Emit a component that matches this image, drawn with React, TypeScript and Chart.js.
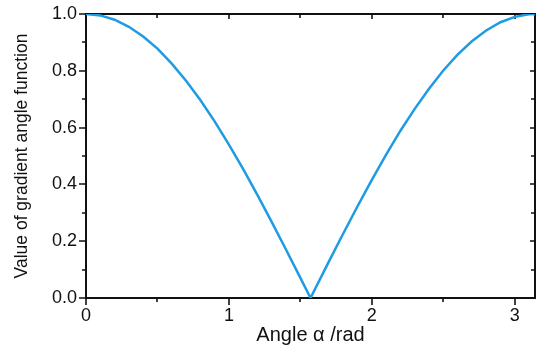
import React, { useEffect, useRef } from "react";
import { Chart, registerables } from "chart.js";

Chart.register(...registerables);

const angles = [
  0, 0.1, 0.2, 0.3, 0.4, 0.5, 0.6, 0.7, 0.8, 0.9, 1.0, 1.1, 1.2, 1.3, 1.4, 1.5, 1.571,
  1.6, 1.7, 1.8, 1.9, 2.0, 2.1, 2.2, 2.3, 2.4, 2.5, 2.6, 2.7, 2.8, 2.9, 3.0, 3.1, 3.1416,
];
const values = [
  1.0, 0.995, 0.98, 0.955, 0.921, 0.878, 0.825, 0.765, 0.697, 0.622, 0.54, 0.454, 0.362,
  0.267, 0.17, 0.071, 0.0, 0.029, 0.129, 0.227, 0.323, 0.416, 0.505, 0.589, 0.666, 0.737,
  0.801, 0.857, 0.904, 0.942, 0.971, 0.99, 0.999, 1.0,
];
const xMajorTicks = [0, 1, 2, 3];
const xMinorTicks = [0.5, 1.5, 2.5];
const yMajorTicks = [0, 0.2, 0.4, 0.6, 0.8, 1.0];
const yMinorTicks = [0.1, 0.3, 0.5, 0.7, 0.9];
const xTitle = "Angle α /rad";
const yTitle = "Value of gradient angle function";

const framePlugin = {
  id: "frame",
  beforeDatasetsDraw(chart: any) {
    const { ctx, chartArea, scales } = chart;
    const { left, right, top, bottom } = chartArea;
    const x = scales.x;
    const y = scales.y;
    ctx.save();
    ctx.strokeStyle = "#111";
    ctx.lineWidth = 2;
    ctx.strokeRect(left, top, right - left, bottom - top);
    ctx.lineWidth = 1.6;
    const major = 7;
    const minor = 4;
    const mirror = 5;
    const mirrorMinor = 4;
    ctx.beginPath();
    xMajorTicks.forEach((v) => {
      const px = Math.round(x.getPixelForValue(v));
      ctx.moveTo(px, bottom);
      ctx.lineTo(px, bottom + major);
      ctx.moveTo(px, top);
      ctx.lineTo(px, top + mirror);
    });
    xMinorTicks.forEach((v) => {
      const px = Math.round(x.getPixelForValue(v));
      ctx.moveTo(px, bottom);
      ctx.lineTo(px, bottom + minor);
      ctx.moveTo(px, top);
      ctx.lineTo(px, top + mirrorMinor);
    });
    yMajorTicks.forEach((v) => {
      const py = Math.round(y.getPixelForValue(v));
      ctx.moveTo(left, py);
      ctx.lineTo(left - major, py);
      ctx.moveTo(right, py);
      ctx.lineTo(right - mirror, py);
    });
    yMinorTicks.forEach((v) => {
      const py = Math.round(y.getPixelForValue(v));
      ctx.moveTo(left, py);
      ctx.lineTo(left - minor, py);
      ctx.moveTo(right, py);
      ctx.lineTo(right - mirrorMinor, py);
    });
    ctx.stroke();
    ctx.restore();
  },
};

export default function App() {
  const ref = useRef<HTMLCanvasElement | null>(null);
  useEffect(() => {
    if (!ref.current) return;
    const chart = new Chart(ref.current, {
      type: "line",
      data: {
        datasets: [
          {
            data: angles.map((a, i) => ({ x: a, y: values[i] })),
            borderColor: "#1E9BE3",
            borderWidth: 2.5,
            pointRadius: 0,
            tension: 0,
            fill: false,
          },
        ],
      },
      options: {
        animation: false,
        responsive: false,
        layout: { padding: { left: 0, right: 15, top: 14, bottom: 0 } },
        plugins: { legend: { display: false }, tooltip: { enabled: false } },
        scales: {
          x: {
            type: "linear",
            min: 0,
            max: Math.PI,
            afterBuildTicks: (s: any) => {
              s.ticks = xMajorTicks.map((v) => ({ value: v }));
            },
            afterFit: (s: any) => {
              s.height = 52;
              s.paddingLeft = 0;
              s.paddingRight = 0;
            },
            grid: { display: false, drawTicks: false },
            border: { display: false },
            ticks: {
              padding: 7,
              color: "#111",
              font: { family: "'Liberation Sans', Arial, sans-serif", size: 18 },
              callback: (v: any) => String(v),
            },
            title: {
              display: true,
              text: xTitle,
              color: "#111",
              font: { family: "'Liberation Sans', Arial, sans-serif", size: 20 },
              padding: { top: 0, bottom: 3 },
            },
          },
          y: {
            type: "linear",
            min: 0,
            max: 1,
            afterBuildTicks: (s: any) => {
              s.ticks = yMajorTicks.map((v) => ({ value: v }));
            },
            afterFit: (s: any) => {
              s.width = 86;
              s.paddingTop = 0;
              s.paddingBottom = 0;
            },
            grid: { display: false, drawTicks: false },
            border: { display: false },
            ticks: {
              padding: 9,
              color: "#111",
              font: { family: "'Liberation Sans', Arial, sans-serif", size: 18 },
              callback: (v: any) => Number(v).toFixed(1),
            },
            title: {
              display: true,
              text: yTitle,
              color: "#111",
              font: { family: "'Liberation Sans', Arial, sans-serif", size: 17.5 },
              padding: { top: 12, bottom: 0 },
            },
          },
        },
      },
      plugins: [framePlugin],
    });
    return () => chart.destroy();
  }, []);
  return (
    <div style={{ position: "absolute", left: 0, top: 0, width: 550, height: 350, background: "#fff" }}>
      <canvas ref={ref} width={550} height={350} style={{ display: "block" }} />
    </div>
  );
}
